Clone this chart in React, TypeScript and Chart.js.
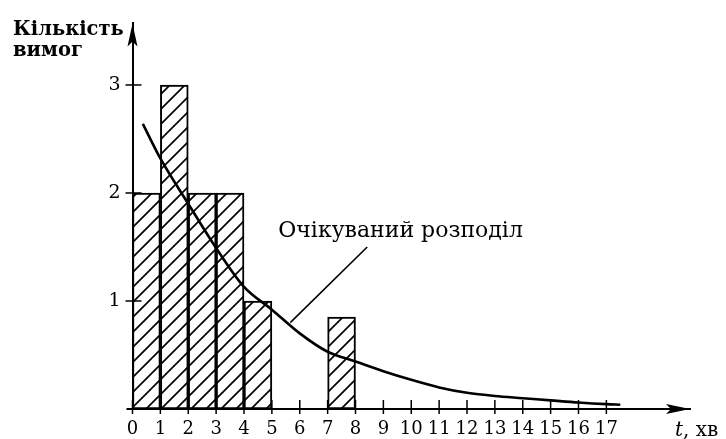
import React, { useEffect, useRef } from 'react';
import { Chart, registerables } from 'chart.js';

Chart.register(...registerables);

// ---- data ----
const intervalStarts = [0, 1, 2, 3, 4, 7];
const counts = [2, 3, 2, 2, 1, 0.85];

const curveT = [0.37, 1, 2, 3, 4, 5, 6, 7, 8, 9, 10, 11, 12, 13, 14, 15, 16, 17, 17.5];
const curveY = [2.64, 2.32, 1.9, 1.49, 1.13, 0.92, 0.7, 0.53, 0.44, 0.35, 0.27, 0.2, 0.15, 0.12, 0.1, 0.08, 0.06, 0.045, 0.04];

const leaderT = [5.66, 8.42];
const leaderY = [0.8, 1.5];

const xTickValues = [0, 1, 2, 3, 4, 5, 6, 7, 8, 9, 10, 11, 12, 13, 14, 15, 16, 17];
const yTickValues = [1, 2, 3];

const curveLabel = 'Очікуваний розподіл';
const curveLabelT = 5.23;
const curveLabelY = 1.59;
const yTitle = ['Кількість', 'вимог'];
const xTitleVar = 't';
const xTitleUnit = ', хв';

const FONT = "'DejaVu Serif', 'Liberation Serif', serif";

function makeHatch(): CanvasPattern | string {
  const c = document.createElement('canvas');
  const s = 15;
  c.width = s;
  c.height = s;
  const g = c.getContext('2d');
  if (!g) return '#fff';
  g.fillStyle = '#fff';
  g.fillRect(0, 0, s, s);
  g.strokeStyle = '#000';
  g.lineWidth = 1.7;
  g.beginPath();
  g.moveTo(-2, s + 2);
  g.lineTo(s + 2, -2);
  g.moveTo(-2, 2);
  g.lineTo(2, -2);
  g.moveTo(s - 2, s + 2);
  g.lineTo(s + 2, s - 2);
  g.stroke();
  const p = g.createPattern(c, 'repeat');
  return p || '#fff';
}

const decorPlugin = {
  id: 'decor',
  afterDraw(chart: any) {
    const { ctx, chartArea, scales } = chart;
    const xs = scales.x;
    const ys = scales.y;
    const left = chartArea.left;
    const bottom = chartArea.bottom;
    const top = chartArea.top;
    const right = chartArea.right;
    ctx.save();
    ctx.strokeStyle = '#000';
    ctx.fillStyle = '#000';
    // axis overhang at origin
    ctx.lineWidth = 2;
    ctx.beginPath();
    ctx.moveTo(left - 6, bottom);
    ctx.lineTo(left, bottom);
    ctx.stroke();
    // x tick marks crossing axis
    ctx.lineWidth = 1.5;
    xTickValues.forEach((v) => {
      const px = xs.getPixelForValue(v);
      ctx.beginPath();
      ctx.moveTo(px, bottom - 9);
      ctx.lineTo(px, bottom + 5);
      ctx.stroke();
    });
    // y tick marks crossing axis
    yTickValues.forEach((v) => {
      const py = ys.getPixelForValue(v);
      ctx.beginPath();
      ctx.moveTo(left - 7, py);
      ctx.lineTo(left + 9, py);
      ctx.stroke();
    });
    // y arrow
    ctx.beginPath();
    ctx.moveTo(left, top);
    ctx.lineTo(left - 5, top + 23);
    ctx.lineTo(left, top + 18);
    ctx.lineTo(left + 5, top + 23);
    ctx.closePath();
    ctx.fill();
    // x arrow
    ctx.beginPath();
    ctx.moveTo(right, bottom);
    ctx.lineTo(right - 24, bottom - 5);
    ctx.lineTo(right - 19, bottom);
    ctx.lineTo(right - 24, bottom + 5);
    ctx.closePath();
    ctx.fill();
    // texts
    ctx.textBaseline = 'alphabetic';
    ctx.textAlign = 'left';
    ctx.font = `bold 19.5px ${FONT}`;
    ctx.fillText(yTitle[0], 13, 35);
    ctx.fillText(yTitle[1], 13, 56);
    ctx.font = `22px ${FONT}`;
    ctx.fillText(curveLabel, xs.getPixelForValue(curveLabelT), ys.getPixelForValue(curveLabelY));
    ctx.font = `italic 20px ${FONT}`;
    const tx = 675;
    ctx.fillText(xTitleVar, tx, 436);
    const w = ctx.measureText(xTitleVar).width;
    ctx.font = `20px ${FONT}`;
    ctx.fillText(xTitleUnit, tx + w, 436);
    ctx.restore();
  },
};

export default function App() {
  const ref = useRef<HTMLCanvasElement | null>(null);
  useEffect(() => {
    if (!ref.current) return;
    const hatch = makeHatch();
    const barData = intervalStarts.map((s, i) => ({ x: s + 0.5, y: counts[i] }));
    const curveData = curveT.map((t, i) => ({ x: t, y: curveY[i] }));
    const leaderData = leaderT.map((t, i) => ({ x: t, y: leaderY[i] }));
    const chart = new Chart(ref.current, {
      type: 'bar',
      data: {
        datasets: [
          {
            type: 'bar',
            data: barData as any,
            backgroundColor: hatch as any,
            borderColor: '#000',
            borderWidth: 2,
            borderSkipped: false,
            barPercentage: 1,
            categoryPercentage: 1,
            order: 2,
          } as any,
          {
            type: 'line',
            data: curveData as any,
            borderColor: '#000',
            borderWidth: 2.6,
            pointRadius: 0,
            tension: 0.4,
            cubicInterpolationMode: 'monotone',
            fill: false,
            order: 1,
          } as any,
          {
            type: 'line',
            data: leaderData as any,
            borderColor: '#000',
            borderWidth: 1.6,
            pointRadius: 0,
            tension: 0,
            fill: false,
            order: 1,
          } as any,
        ],
      },
      options: {
        animation: false,
        responsive: false,
        devicePixelRatio: 1,
        layout: { padding: { left: 0, right: 36, top: 22, bottom: 0 } },
        plugins: { legend: { display: false }, tooltip: { enabled: false }, title: { display: false } },
        scales: {
          x: {
            type: 'linear',
            min: 0,
            max: 20,
            offset: false,
            grid: { display: false, drawTicks: false },
            border: { display: true, color: '#000', width: 2 },
            afterBuildTicks: (s: any) => {
              s.ticks = xTickValues.map((v) => ({ value: v }));
            },
            afterFit: (s: any) => {
              s.height = 30;
            },
            ticks: {
              autoSkip: false,
              maxRotation: 0,
              padding: 10,
              color: '#000',
              font: { family: FONT, size: 18 },
              callback: (v: any) => String(v),
            },
          },
          y: {
            type: 'linear',
            min: 0,
            max: 3.57,
            grid: { display: false, drawTicks: false },
            border: { display: true, color: '#000', width: 2 },
            afterBuildTicks: (s: any) => {
              s.ticks = yTickValues.map((v) => ({ value: v }));
            },
            afterFit: (s: any) => {
              s.width = 132.5;
            },
            ticks: {
              padding: 12,
              color: '#000',
              font: { family: FONT, size: 19 },
              callback: (v: any) => String(v),
            },
          },
        },
      },
      plugins: [decorPlugin],
    });
    return () => chart.destroy();
  }, []);
  return (
    <div style={{ position: 'fixed', left: 0, top: 0, width: 726, height: 439, background: '#fff' }}>
      <canvas ref={ref} width={726} height={439} style={{ display: 'block' }} />
    </div>
  );
}
